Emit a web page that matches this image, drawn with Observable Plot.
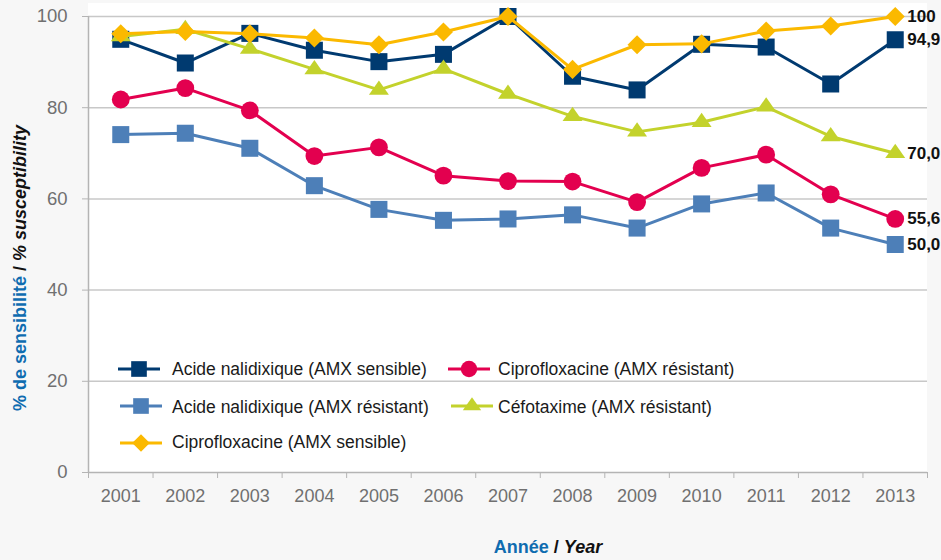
<!DOCTYPE html>
<html>
<head>
<meta charset="utf-8">
<script src="https://cdn.jsdelivr.net/npm/d3@7"></script>
<script src="https://cdn.jsdelivr.net/npm/@observablehq/plot@0.6"></script>
<style>
  html, body { margin: 0; padding: 0; background: #f7f7f7; }
  #chart { width: 941px; height: 560px; }
</style>
</head>
<body>
<div id="chart"></div>
<script>
const years = [2001, 2002, 2003, 2004, 2005, 2006, 2007, 2008, 2009, 2010, 2011, 2012, 2013];
const yTicks = [0, 20, 40, 60, 80, 100];

const nalSensible   = [95.0, 89.8, 96.3, 92.6, 90.1, 91.7, 100, 86.9, 83.9, 93.9, 93.3, 85.2, 94.9];
const nalResistant  = [74.1, 74.4, 71.1, 62.9, 57.7, 55.3, 55.6, 56.5, 53.6, 58.9, 61.3, 53.6, 50.0];
const ciproResistant= [81.8, 84.3, 79.4, 69.4, 71.3, 65.1, 63.9, 63.8, 59.3, 66.8, 69.7, 61.0, 55.6];
const cefoResistant = [95.6, 97.2, 92.9, 88.4, 83.9, 88.5, 83.0, 78.1, 74.7, 76.8, 80.2, 73.7, 70.0];
const ciproSensible = [96.2, 96.7, 96.2, 95.3, 93.8, 96.6, 100, 88.4, 93.8, 94.0, 96.8, 97.9, 100];

const seriesNames = [
  "Acide nalidixique (AMX sensible)",
  "Acide nalidixique (AMX résistant)",
  "Ciprofloxacine (AMX résistant)",
  "Céfotaxime (AMX résistant)",
  "Ciprofloxacine (AMX sensible)"
];
const seriesValues = [nalSensible, nalResistant, ciproResistant, cefoResistant, ciproSensible];
const seriesColors = ["#003a70", "#4d7fb8", "#e3004f", "#c3d22c", "#fbb900"];

const triangle = {
  draw(context, size) {
    const r = Math.sqrt(size / Math.PI);
    const w = r * 1.05, h = r * 1.5;
    context.moveTo(0, -h * 2 / 3);
    context.lineTo(w, h / 3);
    context.lineTo(-w, h / 3);
    context.closePath();
  }
};
const seriesSymbols = ["square", "square", "circle", triangle, "diamond2"];
const seriesR = [9.6, 9.6, 8.9, 9.5, 8.6];

const fontFamily = '"Liberation Sans", Arial, Helvetica, sans-serif';

const fmt = v => v === 100 ? "100" : v.toFixed(1).replace(".", ",");

const seriesMarks = seriesNames.flatMap((name, s) => {
  const rows = years.map((yr, i) => ({year: yr, value: seriesValues[s][i], series: name}));
  return [
    Plot.line(rows, {x: "year", y: "value", stroke: seriesColors[s], strokeWidth: 3}),
    Plot.dot(rows, {x: "year", y: "value", symbol: () => seriesSymbols[s], r: seriesR[s], fill: seriesColors[s], stroke: "none"}),
    Plot.text(rows.slice(-1), {x: "year", y: "value", text: d => fmt(d.value), dx: 12, textAnchor: "start",
      fontWeight: "bold", fontSize: 17, fill: "#111"})
  ];
});

const boundaries = years.map(y => y - 0.5).concat([years[years.length - 1] + 0.5]);

const plot = Plot.plot({
  width: 941,
  height: 560,
  marginLeft: 88,
  marginRight: 14,
  marginTop: 16,
  marginBottom: 88,
  style: {background: "transparent", fontFamily, overflow: "visible"},
  x: {domain: [boundaries[0], boundaries[boundaries.length - 1]]},
  y: {domain: [0, 100]},
  symbol: {type: "identity"},
  marks: [
    Plot.gridY(yTicks.slice(1), {stroke: "#c8c8c8", strokeOpacity: 1, strokeWidth: 1.5}),
    Plot.axisY(yTicks, {tickSize: 6, tickPadding: 15, fontSize: 18.5, fill: "#707070", stroke: "#b4b4b4", label: null}),
    Plot.ruleX([boundaries[0]], {stroke: "#b4b4b4", strokeWidth: 1.5}),
    Plot.ruleY([0], {stroke: "#b4b4b4", strokeWidth: 1.5}),
    Plot.axisX(boundaries, {tickSize: 6, tickFormat: () => "", stroke: "#b4b4b4", label: null}),
    Plot.axisX(years, {tickSize: 0, tickPadding: 17, tickFormat: d => String(d), fontSize: 18, fill: "#707070", label: null}),
    ...seriesMarks
  ]
});

const svg = d3.select(plot);
// white plot panel behind everything
svg.insert("rect", ":first-child")
  .attr("x", 88).attr("y", 3).attr("width", 839).attr("height", 469).attr("fill", "#ffffff");

// Legend inside the plot area
const legendItems = [
  {s: 0, x: 118, y: 369, tx: 172, ty: 375},
  {s: 2, x: 448, y: 369, tx: 498, ty: 375},
  {s: 1, x: 120, y: 406, tx: 172, ty: 413},
  {s: 3, x: 451, y: 406, tx: 498, ty: 413},
  {s: 4, x: 120, y: 443, tx: 172, ty: 448}
];
const lg = svg.append("g").attr("font-family", fontFamily).attr("text-anchor", "start");
legendItems.forEach(it => {
  const s = it.s;
  const g = lg.append("g");
  g.append("line").attr("x1", it.x).attr("x2", it.x + 42).attr("y1", it.y).attr("y2", it.y)
    .attr("stroke", seriesColors[s]).attr("stroke-width", 3);
  const sym = typeof seriesSymbols[s] === "string"
    ? {square: d3.symbolSquare, circle: d3.symbolCircle, diamond2: d3.symbolDiamond2}[seriesSymbols[s]]
    : seriesSymbols[s];
  const rr = seriesR[s] * 0.92;
  g.append("path").attr("transform", `translate(${it.x + 21},${it.y})`)
    .attr("d", d3.symbol(sym, Math.PI * rr * rr)()).attr("fill", seriesColors[s]);
  g.append("text").attr("x", it.tx).attr("y", it.ty).attr("font-size", 17.5).attr("fill", "#1a1a1a")
    .attr("text-anchor", "start").text(seriesNames[s]);
});

// Axis titles
const xt = svg.append("text").attr("x", 548).attr("y", 553).attr("text-anchor", "middle")
  .attr("font-family", fontFamily).attr("font-size", 18).attr("font-weight", "bold");
xt.append("tspan").attr("fill", "#0f6cb0").text("Année");
xt.append("tspan").attr("fill", "#111").text(" / ");
xt.append("tspan").attr("fill", "#111").attr("font-style", "italic").text("Year");

const yt = svg.append("text").attr("transform", "translate(26,268) rotate(-90)").attr("text-anchor", "middle")
  .attr("font-family", fontFamily).attr("font-size", 18).attr("font-weight", "bold");
yt.append("tspan").attr("fill", "#0f6cb0").text("% de sensibilité");
yt.append("tspan").attr("fill", "#111").text(" / ");
yt.append("tspan").attr("fill", "#111").attr("font-style", "italic").text("% susceptibility");

document.getElementById("chart").appendChild(plot);
</script>
</body>
</html>
